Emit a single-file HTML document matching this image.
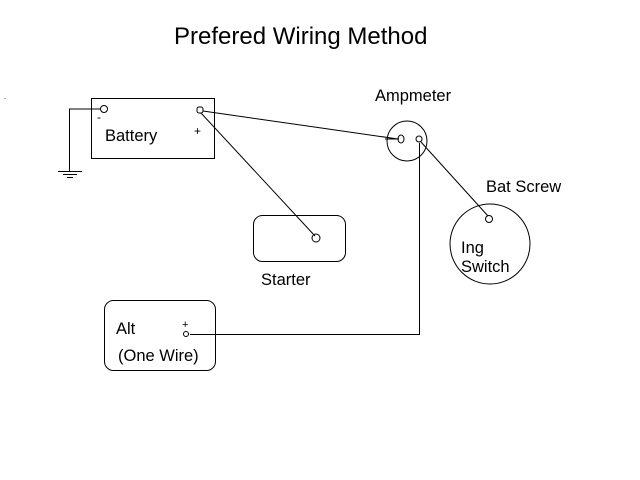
<!DOCTYPE html>
<html><head><meta charset="utf-8"><style>
html,body{margin:0;padding:0;background:#fff;width:640px;height:480px;overflow:hidden}
svg{display:block}
text{font-family:"Liberation Sans",Arial,sans-serif;fill:#000}
</style></head><body>
<svg width="640" height="480" viewBox="0 0 640 480" xmlns="http://www.w3.org/2000/svg">
<g fill="none" stroke="#000" stroke-width="1">
<rect x="91.5" y="98.5" width="123" height="60"/>
<circle cx="104" cy="109" r="3.5"/>
<rect x="197" y="107" width="6" height="6" rx="2"/>
<polyline points="100,109 69.5,109 69.5,171"/>
<line x1="58" y1="171.5" x2="82" y2="171.5"/>
<line x1="63" y1="174.5" x2="77" y2="174.5"/>
<line x1="67" y1="177.5" x2="73" y2="177.5"/>
<line x1="203" y1="111" x2="398" y2="139"/>
<line x1="201" y1="113" x2="315" y2="236"/>
<line x1="421" y1="142" x2="488" y2="216"/>
<polyline points="190,334.5 419.5,334.5 419.5,143"/>
<line x1="385" y1="139" x2="399" y2="139"/>
<circle cx="407" cy="141" r="20"/>
<ellipse cx="401" cy="139" rx="3" ry="4"/>
<circle cx="419" cy="139" r="3"/>
<circle cx="490" cy="244" r="40"/>
<circle cx="489" cy="219" r="3.5"/>
<rect x="253.5" y="215.5" width="92" height="46" rx="9"/>
<circle cx="316" cy="238" r="4"/>
<rect x="104.5" y="300.5" width="111" height="70" rx="9"/>
<circle cx="186" cy="334" r="2.5"/>
</g>
<text x="174" y="44" font-size="24">Prefered Wiring Method</text>
<text x="97" y="121" font-size="12">-</text>
<text x="105" y="141" font-size="16.5">Battery</text>
<text x="194" y="135" font-size="12">+</text>
<text x="375" y="101" font-size="16.5">Ampmeter</text>
<text x="486" y="192" font-size="16.5">Bat Screw</text>
<text x="461" y="253" font-size="16.5">Ing</text>
<text x="461" y="272" font-size="16.5">Switch</text>
<text x="261" y="285" font-size="16.5">Starter</text>
<text x="116" y="334" font-size="16.5">Alt</text>
<text x="182" y="328" font-size="11">+</text>
<text x="118" y="361" font-size="16.5">(One Wire)</text>
<text x="4" y="99" font-size="8">.</text>
</svg>
</body></html>
